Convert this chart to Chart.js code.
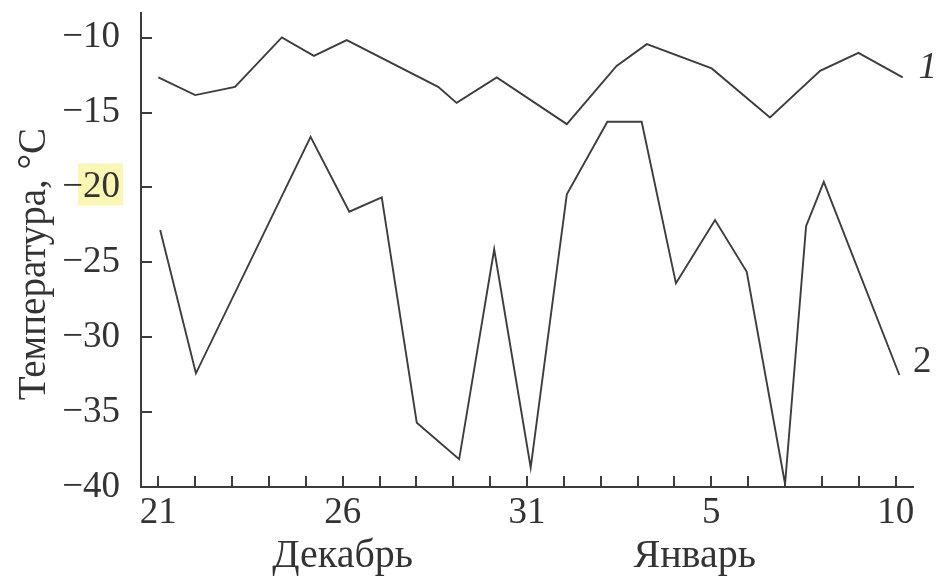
<!DOCTYPE html>
<html>
<head>
<meta charset="utf-8">
<script src="https://cdn.jsdelivr.net/npm/chart.js@4/dist/chart.umd.min.js"></script>
<style>
  html, body { margin: 0; padding: 0; background: #fff; }
  #wrap { width: 941px; height: 577px; }
</style>
</head>
<body>
<div id="wrap"><canvas id="chart" width="941" height="577"></canvas></div>
<script>
// days counted from 21 Dec (0) to 10 Jan (20)
const days1  = [0, 1, 2.08, 3.35, 4.22, 5.11, 7.59, 8.09, 9.18, 11.08, 12.43, 13.25, 15.01, 16.59, 17.95, 18.99, 20.19];
const temps1 = [-12.65, -13.83, -13.28, -9.98, -11.21, -10.16, -13.28, -14.35, -12.65, -15.77, -11.88, -10.43, -12.05, -15.32, -12.21, -11.01, -12.65];

const days2  = [0.05, 1.02, 4.13, 5.18, 6.06, 7.01, 8.16, 9.11, 10.1, 11.08, 12.18, 13.11, 14.04, 15.1, 15.96, 17.0, 17.57, 18.05, 20.1];
const temps2 = [-22.84, -32.41, -16.62, -21.62, -20.66, -35.71, -38.15, -24.13, -38.71, -20.46, -15.61, -15.61, -26.4, -22.18, -25.63, -39.8, -22.58, -19.62, -32.52];

const xTickDays   = [0, 5, 10, 15, 20];
const xTickLabels = ['21', '26', '31', '5', '10'];
const minorDays   = [0, 1, 2, 3, 4, 5, 6, 7, 8, 9, 10, 11, 12, 13, 14, 15, 16, 17, 18, 19, 20];
const yTicks      = [-40, -35, -30, -25, -20, -15, -10];
const monthNames   = ['Декабрь', 'Январь'];
const monthCenters = [5, 14.55];
const seriesNames  = ['1', '2'];
const yTitle = 'Температура, °C';
const markedTick = -20; // the label with the yellow marker behind it

const INK = '#333333';
const LINE = '#3d3d3d';
const FONT = '"Liberation Serif", serif';

function toPoints(xs, ys) {
  return xs.map((d, i) => ({ x: d, y: ys[i] }));
}

/* ticks pointing inward, month names, curve numbers, axis title */
const extras = {
  id: 'extras',
  beforeDraw(chart) {
    const { ctx, chartArea: a, scales: { y } } = chart;
    const py = y.getPixelForValue(markedTick);
    ctx.save();
    ctx.fillStyle = 'rgba(245, 240, 120, 0.55)';
    ctx.fillRect(a.left - 63, py - 24, 45, 42);
    ctx.restore();
  },
  afterDraw(chart) {
    const { ctx, chartArea: a, scales: { x, y } } = chart;
    ctx.save();
    ctx.strokeStyle = LINE;
    ctx.lineWidth = 2;
    ctx.beginPath();
    minorDays.forEach(d => {
      const px = Math.round(x.getPixelForValue(d));
      ctx.moveTo(px, a.bottom);
      ctx.lineTo(px, a.bottom - 11);
    });
    yTicks.forEach(v => {
      if (v === -40) return;
      const py = Math.round(y.getPixelForValue(v));
      ctx.moveTo(a.left, py);
      ctx.lineTo(a.left + 11, py);
    });
    ctx.stroke();

    ctx.fillStyle = INK;
    ctx.font = '40px ' + FONT;
    ctx.textAlign = 'center';
    ctx.textBaseline = 'alphabetic';
    monthNames.forEach((m, i) => ctx.fillText(m, x.getPixelForValue(monthCenters[i]), 567));

    // curve numbers next to the last point of each line
    const offs = [[25, 1, 'italic '], [23, -3, '']];
    chart.data.datasets.forEach((ds, i) => {
      const pts = chart.getDatasetMeta(i).data;
      const last = pts[pts.length - 1];
      ctx.font = offs[i][2] + '37px ' + FONT;
      ctx.fillText(seriesNames[i], last.x + offs[i][0], last.y + offs[i][1]);
    });

    ctx.translate(45, 264);
    ctx.rotate(-Math.PI / 2);
    ctx.font = '39px ' + FONT;
    ctx.fillText(yTitle, 0, 0);
    ctx.restore();
  }
};

new Chart(document.getElementById('chart'), {
  type: 'line',
  data: {
    datasets: [
      { data: toPoints(days1, temps1), borderColor: LINE, borderWidth: 1.9, pointRadius: 0, tension: 0, fill: false },
      { data: toPoints(days2, temps2), borderColor: LINE, borderWidth: 1.9, pointRadius: 0, tension: 0, fill: false }
    ]
  },
  options: {
    responsive: false,
    devicePixelRatio: 1,
    animation: false,
    layout: { padding: { top: 13, right: 28, left: 0, bottom: 0 } },
    plugins: { legend: { display: false }, tooltip: { enabled: false } },
    scales: {
      x: {
        type: 'linear',
        min: -0.47,
        max: 20.47,
        grid: { display: false, drawTicks: false },
        border: { display: true, color: LINE, width: 2 },
        afterBuildTicks: s => { s.ticks = xTickDays.map(v => ({ value: v })); },
        afterFit: s => { s.height = 90; s.paddingLeft = 0; s.paddingRight = 0; },
        ticks: {
          autoSkip: false,
          maxRotation: 0,
          padding: 4,
          color: INK,
          font: { family: FONT, size: 37 },
          callback: v => xTickLabels[xTickDays.indexOf(v)]
        }
      },
      y: {
        type: 'linear',
        min: -40,
        max: -8.35,
        grid: { display: false, drawTicks: false },
        border: { display: true, color: LINE, width: 2 },
        afterBuildTicks: s => { s.ticks = yTicks.map(v => ({ value: v })); },
        afterFit: s => { s.width = 141; s.paddingTop = 0; s.paddingBottom = 0; },
        ticks: {
          padding: 21,
          color: INK,
          font: { family: FONT, size: 37 },
          callback: v => String(v).replace('-', '\u2212')
        }
      }
    }
  },
  plugins: [extras]
});
</script>
</body>
</html>
